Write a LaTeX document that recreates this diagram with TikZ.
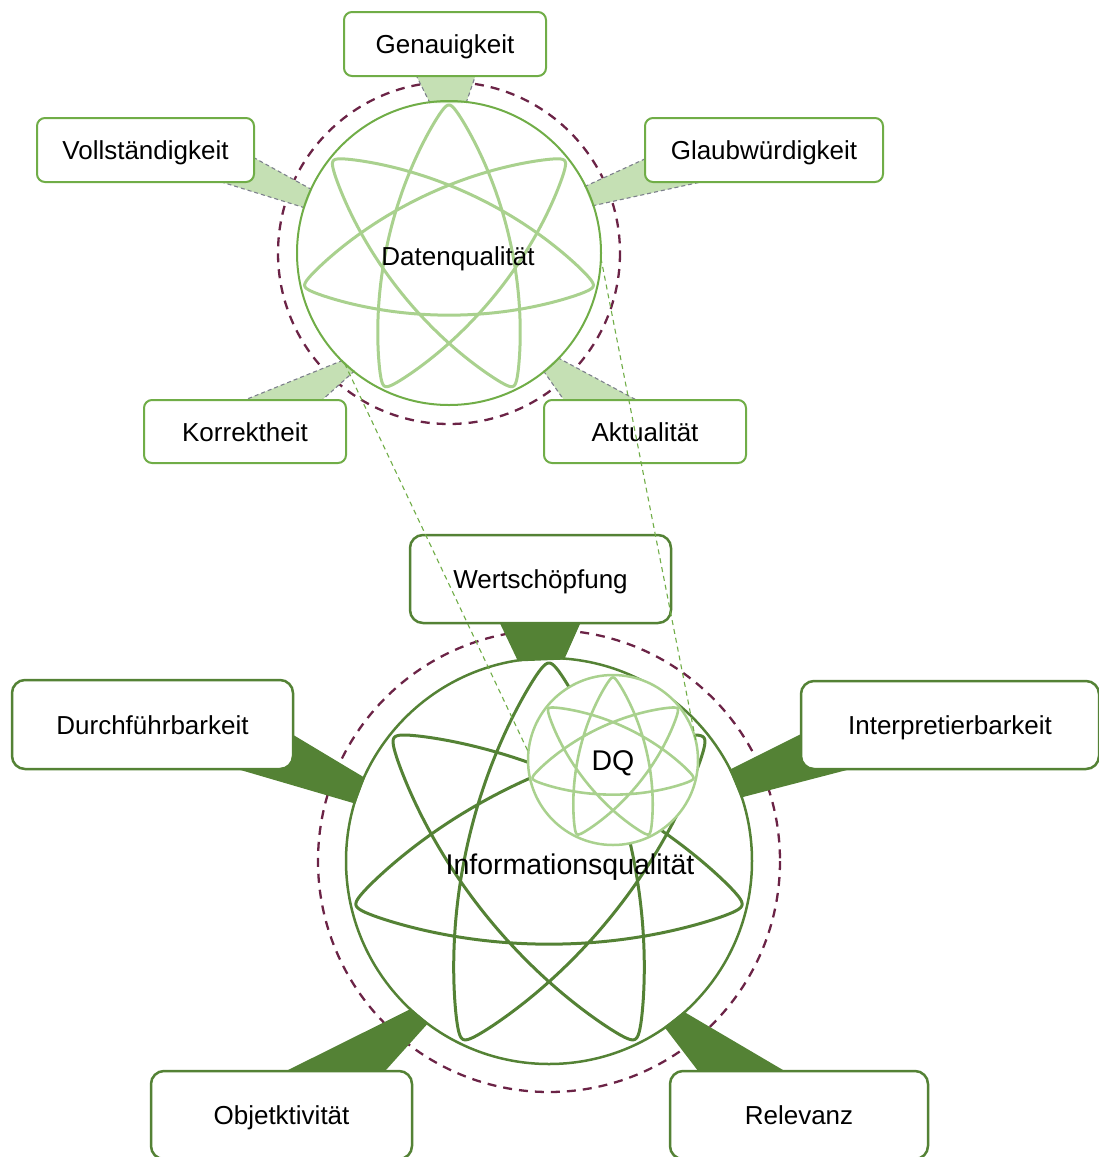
\documentclass[tikz,border=0pt]{standalone}
\usepackage{fontspec}
\setmainfont{Liberation Sans}
\usetikzlibrary{backgrounds}

\definecolor{leafgreen}{RGB}{112,173,71}
\definecolor{palegreen}{RGB}{169,209,142}
\definecolor{wedgepale}{RGB}{197,224,180}
\definecolor{mossgreen}{RGB}{84,130,53}
\definecolor{haloplum}{RGB}{107,35,70}
\definecolor{edgegray}{RGB}{125,128,140}

\newcommand\labelsize{\fontsize{26}{31}\selectfont}
\newcommand\bigsize{\fontsize{28.5}{34}\selectfont}

% seven-pointed orbit star {7/3} (a trochoid with one extra harmonic), around a centre node
\newcommand\starorbit[3]{%
  \begin{scope}[shift={(#1.center)}]
    \draw[#3] plot[smooth cycle, samples=420, domain=0:1077.43, variable=\ang]
      ({#2*(0.71*sin(\ang)-0.33*sin(4*\ang/3)-0.04*sin(10*\ang/3))},
       {-#2*(0.71*cos(\ang)+0.33*cos(4*\ang/3)-0.04*cos(10*\ang/3))});
  \end{scope}}

% pale tapered connector: atom, angle A, angle B, box, wide end near A, wide end near B
\newcommand\palewedge[6]{%
  \fill[wedgepale] ([shift={(#2:151)}]#1.center) -- ([shift={#5}]#4.center)
     -- ([shift={#6}]#4.center) -- ([shift={(#3:151)}]#1.center) -- cycle;
  \draw[wedgeedge] ([shift={(#2:151)}]#1.center) -- ([shift={#5}]#4.center)
     ([shift={(#3:151)}]#1.center) -- ([shift={#6}]#4.center);}

% dark tapered connector
\newcommand\darkwedge[6]{%
  \fill[mossgreen] ([shift={(#2:202)}]#1.center) -- ([shift={#5}]#4.center)
     -- ([shift={#6}]#4.center) -- ([shift={(#3:202)}]#1.center) -- cycle;}

\begin{document}
\begin{tikzpicture}[x=1pt, y=-1pt,
  boxtext/.style={font=\labelsize, text height=19pt, text depth=0pt},
  bigtext/.style={font=\bigsize, text height=20.8pt, text depth=0pt},
  upperbox/.style={boxtext, draw=leafgreen, line width=2pt, fill=white,
    rounded corners=8pt, inner sep=0pt},
  lowerbox/.style={boxtext, draw=mossgreen, line width=2.5pt, fill=white,
    rounded corners=13pt, inner sep=0pt},
  ring/.style={circle, inner sep=0pt, outer sep=0pt},
  halo/.style={draw=haloplum, line width=2.3pt, dash pattern=on 9pt off 7pt},
  wedgeedge/.style={draw=edgegray, line width=1.1pt, dash pattern=on 4pt off 3pt},
  zoomline/.style={draw=leafgreen, line width=1.1pt, dash pattern=on 5pt off 4pt},
]
\useasboundingbox (0,0) rectangle (1099,1157);

% atoms
\node[ring, draw=leafgreen, line width=2pt, minimum size=304pt] (dat) at (449,253) {};
\starorbit{dat}{148}{palegreen, line width=3pt, line join=round}
\node[ring, draw=mossgreen, line width=2.5pt, minimum size=406pt] (info) at (549,861) {};
\starorbit{info}{198}{mossgreen, line width=3pt, line join=round}
\node[ring, draw=palegreen, line width=2.5pt, fill=white, minimum size=170pt] (dq) at (613,760) {};
\starorbit{dq}{82.5}{palegreen, line width=2.6pt, line join=round}

% attribute boxes
\node[upperbox, minimum width=202pt, minimum height=64pt] (gen) at (445,44) {Genauigkeit};
\node[upperbox, minimum width=217pt, minimum height=64pt] (voll) at (145.5,150) {Vollständigkeit};
\node[upperbox, minimum width=238pt, minimum height=64pt] (glaub) at (764,150) {Glaubwürdigkeit};
\node[upperbox, minimum width=202pt, minimum height=63pt] (korr) at (245,431.5) {Korrektheit};
\node[upperbox, minimum width=202pt, minimum height=63pt] (akt) at (645,431.5) {Aktualität};
\node[lowerbox, minimum width=261pt, minimum height=88pt] (wert) at (540.5,579) {Wertschöpfung};
\node[lowerbox, minimum width=281pt, minimum height=89pt] (durch) at (152.5,724.5) {Durchführbarkeit};
\node[lowerbox, minimum width=298pt, minimum height=88pt] (interp) at (950,725) {Interpretierbarkeit};
\node[lowerbox, minimum width=261pt, minimum height=88pt] (obj) at (281.5,1115) {Objetktivität};
\node[lowerbox, minimum width=258pt, minimum height=88pt] (rel) at (799,1115) {Relevanz};

\begin{pgfonlayer}{background}
  % dashed halos
  \draw[halo] (dat.center) circle[radius=171];
  \draw[halo] (info.center) circle[radius=231];
  % pale connectors of the data quality atom
  \palewedge{dat}{-97.2}{-83.5}{gen}{(-31.5,26)}{(32.4,26)}
  \palewedge{dat}{-155.2}{-162.6}{voll}{(94.5,0)}{(69.5,30)}
  \palewedge{dat}{-26.1}{-18.2}{glaub}{(-104,2)}{(-54,30)}
  \palewedge{dat}{134.7}{128.7}{korr}{(-25,-21.5)}{(66,-21.5)}
  \palewedge{dat}{43.9}{51.3}{akt}{(10,-21.5)}{(-74,-21.5)}
  % dark connectors of the information quality atom
  \darkwedge{info}{-98.8}{-85.7}{wert}{(-44.5,36)}{(43.5,36)}
  \darkwedge{info}{-155.7}{-163.5}{durch}{(127.5,2.5)}{(67.5,39.5)}
  \darkwedge{info}{-26.8}{-18.3}{interp}{(-135,2)}{(-80,39)}
  \darkwedge{info}{133.0}{126.7}{obj}{(-13.5,-35)}{(95.5,-35)}
  \darkwedge{info}{48.2}{55.2}{rel}{(1,-35)}{(-94,-35)}
\end{pgfonlayer}

% atom names
\node[boxtext] (datname) at (458,256) {Datenqualität};
\node[bigtext] (infoname) at (570,864) {Informationsqualität};
\node[bigtext] (dqname) at (613,760) {DQ};

% zoom lines from the data quality atom to its small copy
\draw[zoomline] ([shift={(133.4:152)}]dat.center) -- ([shift={(185.3:85)}]dq.center);
\draw[zoomline] ([shift={(1.9:152)}]dat.center) -- ([shift={(-12.1:85)}]dq.center);
\end{tikzpicture}
\end{document}
